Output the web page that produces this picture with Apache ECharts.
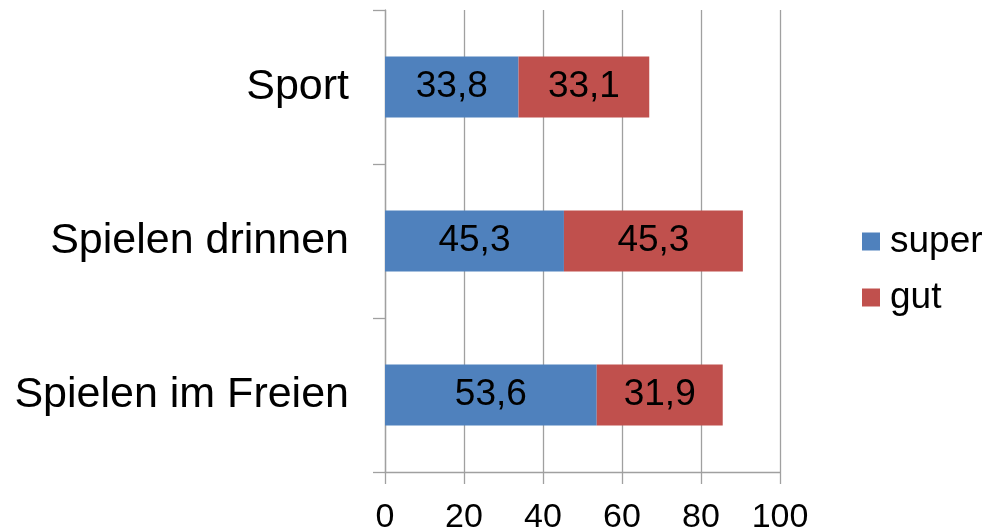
<!DOCTYPE html>
<html>
<head>
<meta charset="utf-8">
<script src="https://cdn.jsdelivr.net/npm/echarts@6/dist/echarts.min.js"></script>
<style>html,body{margin:0;padding:0;background:#fff}#c{width:984px;height:529px}</style>
</head>
<body>
<div id="c"></div>
<script>
const categories = ['Spielen im Freien', 'Spielen drinnen', 'Sport'];
const superValues = [53.6, 45.3, 33.8];
const gutValues = [31.9, 45.3, 33.1];
const seriesNames = ['super', 'gut'];
const xTicks = [0, 20, 40, 60, 80, 100];

const font = 'Liberation Sans, Arial, sans-serif';
const gridColor = '#a0a0a0';
const fmt = p => String(p.value).replace('.', ',');

const chart = echarts.init(document.getElementById('c'));
chart.setOption({
  animation: false,
  backgroundColor: '#fff',
  grid: { left: 385, right: 204, top: 10, bottom: 57, containLabel: false, outerBoundsMode: 'none' },
  legend: {
    orient: 'vertical',
    left: 857,
    top: 218,
    itemWidth: 18,
    itemHeight: 18,
    itemGap: 19,
    icon: 'rect',
    data: seriesNames,
    textStyle: { fontFamily: font, fontSize: 37, color: '#000', padding: [0, 0, 0, 5] }
  },
  xAxis: {
    type: 'value',
    min: xTicks[0],
    max: xTicks[xTicks.length - 1],
    interval: 20,
    axisLine: { show: true, lineStyle: { color: gridColor, width: 1.3 } },
    axisTick: { show: true, length: 12, lineStyle: { color: gridColor, width: 1.3 } },
    splitLine: { show: true, lineStyle: { color: gridColor, width: 1.3 } },
    axisLabel: { fontFamily: font, fontSize: 34, color: '#000', margin: 29 }
  },
  yAxis: {
    type: 'category',
    data: categories,
    axisLine: { show: true, lineStyle: { color: gridColor, width: 1.3 } },
    axisTick: { show: true, length: 12, lineStyle: { color: gridColor, width: 1.3 } },
    axisLabel: { fontFamily: font, fontSize: 43, color: '#000', margin: 36 }
  },
  series: [
    {
      name: seriesNames[0], type: 'bar', stack: 'a', data: superValues, barWidth: 61,
      itemStyle: { color: '#4f81bd' },
      label: { show: true, position: 'inside', formatter: fmt, fontFamily: font, fontSize: 37, color: '#000' }
    },
    {
      name: seriesNames[1], type: 'bar', stack: 'a', data: gutValues, barWidth: 61,
      itemStyle: { color: '#c0504d' },
      label: { show: true, position: 'inside', formatter: fmt, fontFamily: font, fontSize: 37, color: '#000' }
    }
  ]
});
</script>
</body>
</html>
